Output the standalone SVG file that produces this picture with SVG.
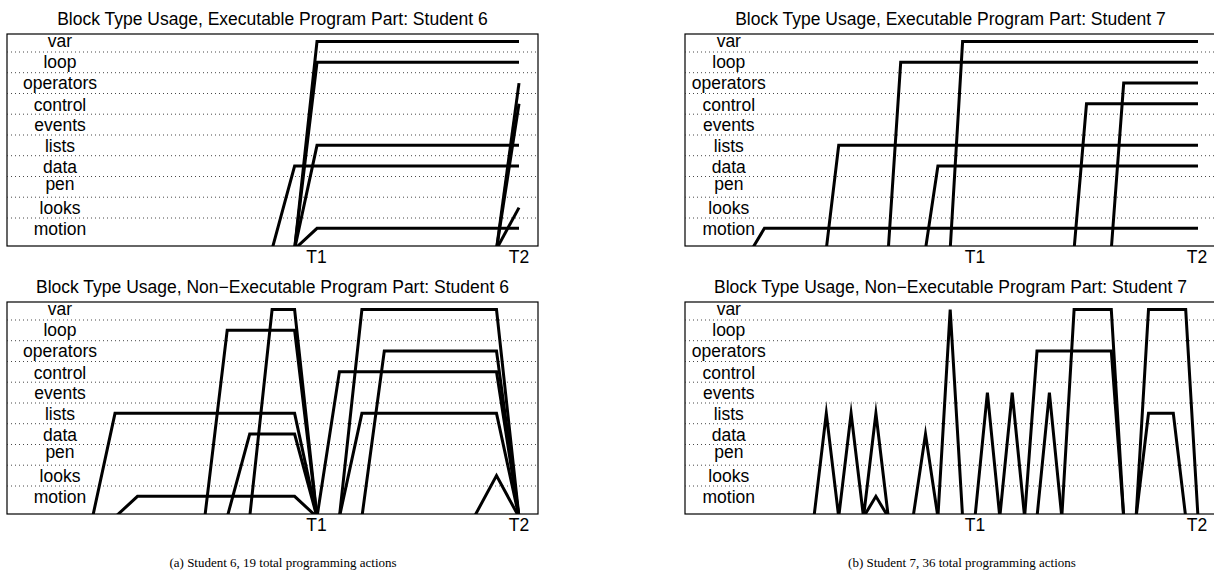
<svg xmlns="http://www.w3.org/2000/svg" width="1214" height="575" viewBox="0 0 1214 575">
<style>
.t{font-family:"Liberation Sans",Arial,sans-serif;font-size:17.5px;fill:#000;text-anchor:middle}
.lb{font-family:"Liberation Sans",Arial,sans-serif;font-size:17.5px;fill:#000;text-anchor:middle}
.cap{font-family:"Liberation Serif","Times New Roman",serif;font-size:13px;fill:#000;text-anchor:middle}
.box{fill:#fff;stroke:#000;stroke-width:1.2}
.grid{stroke:#333;stroke-width:0.9;stroke-dasharray:1 3;fill:none}
.d{fill:none;stroke:#000;stroke-width:3;stroke-linejoin:miter;stroke-miterlimit:10}
</style>
<defs>
<clipPath id="cA1"><rect x="7" y="34" width="531" height="212"/></clipPath>
<clipPath id="cA2"><rect x="7" y="302" width="531" height="212"/></clipPath>
<clipPath id="cB1"><rect x="685" y="34" width="531" height="212"/></clipPath>
<clipPath id="cB2"><rect x="685" y="302" width="531" height="212"/></clipPath>
</defs>
<rect width="1214" height="575" fill="#fff"/>

<!-- Panel A top -->
<g id="panelA1">
<text class="t" x="272.5" y="25">Block Type Usage, Executable Program Part: Student 6</text>
<rect class="box" x="7" y="34" width="531" height="212"/>
<g class="grid">
<line x1="7" y1="52" x2="538" y2="52"/><line x1="7" y1="72.7" x2="538" y2="72.7"/><line x1="7" y1="93.5" x2="538" y2="93.5"/>
<line x1="7" y1="114.2" x2="538" y2="114.2"/><line x1="7" y1="135" x2="538" y2="135"/><line x1="7" y1="155.7" x2="538" y2="155.7"/>
<line x1="7" y1="176.5" x2="538" y2="176.5"/><line x1="7" y1="197.2" x2="538" y2="197.2"/><line x1="7" y1="218" x2="538" y2="218"/>
</g>
<g class="lb">
<text x="60" y="47">var</text><text x="60" y="68">loop</text><text x="60" y="88.5">operators</text><text x="60" y="110.5">control</text><text x="60" y="131">events</text>
<text x="60" y="151.7">lists</text><text x="60" y="172.5">data</text><text x="60" y="189.5">pen</text><text x="60" y="213.7">looks</text><text x="60" y="234.5">motion</text>
</g>
<text class="t" x="316.5" y="263">T1</text><text class="t" x="519" y="263">T2</text>
</g>

<!-- Panel A bottom -->
<g id="panelA2">
<text class="t" x="272.5" y="293">Block Type Usage, Non−Executable Program Part: Student 6</text>
<rect class="box" x="7" y="302" width="531" height="212"/>
<g class="grid">
<line x1="7" y1="320" x2="538" y2="320"/><line x1="7" y1="340.7" x2="538" y2="340.7"/><line x1="7" y1="361.5" x2="538" y2="361.5"/>
<line x1="7" y1="382.2" x2="538" y2="382.2"/><line x1="7" y1="403" x2="538" y2="403"/><line x1="7" y1="423.7" x2="538" y2="423.7"/>
<line x1="7" y1="444.5" x2="538" y2="444.5"/><line x1="7" y1="465.2" x2="538" y2="465.2"/><line x1="7" y1="486" x2="538" y2="486"/>
</g>
<g class="lb">
<text x="60" y="315">var</text><text x="60" y="336">loop</text><text x="60" y="356.5">operators</text><text x="60" y="378.5">control</text><text x="60" y="399">events</text>
<text x="60" y="419.7">lists</text><text x="60" y="440.5">data</text><text x="60" y="457.5">pen</text><text x="60" y="481.7">looks</text><text x="60" y="502.5">motion</text>
</g>
<text class="t" x="316.5" y="531">T1</text><text class="t" x="519" y="531">T2</text>
</g>

<!-- Panel B top -->
<g id="panelB1">
<text class="t" x="950.5" y="25">Block Type Usage, Executable Program Part: Student 7</text>
<rect class="box" x="685" y="34" width="531" height="212"/>
<g class="grid">
<line x1="685" y1="52" x2="1216" y2="52"/><line x1="685" y1="72.7" x2="1216" y2="72.7"/><line x1="685" y1="93.5" x2="1216" y2="93.5"/>
<line x1="685" y1="114.2" x2="1216" y2="114.2"/><line x1="685" y1="135" x2="1216" y2="135"/><line x1="685" y1="155.7" x2="1216" y2="155.7"/>
<line x1="685" y1="176.5" x2="1216" y2="176.5"/><line x1="685" y1="197.2" x2="1216" y2="197.2"/><line x1="685" y1="218" x2="1216" y2="218"/>
</g>
<g class="lb">
<text x="728.8" y="47">var</text><text x="728.8" y="68">loop</text><text x="728.8" y="88.5">operators</text><text x="728.8" y="110.5">control</text><text x="728.8" y="131">events</text>
<text x="728.8" y="151.7">lists</text><text x="728.8" y="172.5">data</text><text x="728.8" y="189.5">pen</text><text x="728.8" y="213.7">looks</text><text x="728.8" y="234.5">motion</text>
</g>
<text class="t" x="975" y="263">T1</text><text class="t" x="1197" y="263">T2</text>
</g>

<!-- Panel B bottom -->
<g id="panelB2">
<text class="t" x="950.5" y="293">Block Type Usage, Non−Executable Program Part: Student 7</text>
<rect class="box" x="685" y="302" width="531" height="212"/>
<g class="grid">
<line x1="685" y1="320" x2="1216" y2="320"/><line x1="685" y1="340.7" x2="1216" y2="340.7"/><line x1="685" y1="361.5" x2="1216" y2="361.5"/>
<line x1="685" y1="382.2" x2="1216" y2="382.2"/><line x1="685" y1="403" x2="1216" y2="403"/><line x1="685" y1="423.7" x2="1216" y2="423.7"/>
<line x1="685" y1="444.5" x2="1216" y2="444.5"/><line x1="685" y1="465.2" x2="1216" y2="465.2"/><line x1="685" y1="486" x2="1216" y2="486"/>
</g>
<g class="lb">
<text x="728.8" y="315">var</text><text x="728.8" y="336">loop</text><text x="728.8" y="356.5">operators</text><text x="728.8" y="378.5">control</text><text x="728.8" y="399">events</text>
<text x="728.8" y="419.7">lists</text><text x="728.8" y="440.5">data</text><text x="728.8" y="457.5">pen</text><text x="728.8" y="481.7">looks</text><text x="728.8" y="502.5">motion</text>
</g>
<text class="t" x="975" y="531">T1</text><text class="t" x="1197" y="531">T2</text>
</g>

<!-- data lines (connectors) -->
<g id="connectors">
<g clip-path="url(#cA1)">
<polyline class="d" points="272.1,249.1 294.6,166.1 519,166.1"/>
<polyline class="d" points="294.6,249.1 317,41.6 519,41.6"/>
<polyline class="d" points="294.6,249.1 317,62.35 519,62.35"/>
<polyline class="d" points="294.6,249.1 317,145.35 519,145.35"/>
<polyline class="d" points="294.6,249.1 317,228.35 519,228.35"/>
<polyline class="d" points="496.5,249.1 519,83.1"/>
<polyline class="d" points="496.5,249.1 519,103.85"/>
<polyline class="d" points="496.5,249.1 519,207.6"/>
</g>
<g clip-path="url(#cA2)">
<polyline class="d" points="92.6,517.1 115,413.35 294.6,413.35 317,517.1"/>
<polyline class="d" points="339.4,517.1 361.9,413.35 496.5,413.35 519,517.1"/>
<polyline class="d" points="115,517.1 137.5,496.35 294.6,496.35 317,517.1"/>
<polyline class="d" points="204.8,517.1 227.2,330.35 294.6,330.35 317,517.1"/>
<polyline class="d" points="227.2,517.1 249.7,434.1 294.6,434.1 317,517.1"/>
<polyline class="d" points="249.7,517.1 272.1,309.6 294.6,309.6 317,517.1"/>
<polyline class="d" points="339.4,517.1 361.9,309.6 496.5,309.6 519,517.1"/>
<polyline class="d" points="317,517.1 339.4,371.85 496.5,371.85 519,517.1"/>
<polyline class="d" points="361.9,517.1 384.3,351.1 496.5,351.1 519,517.1"/>
<polyline class="d" points="474.1,517.1 496.5,475.6 519,517.1"/>
</g>
<g clip-path="url(#cB1)">
<polyline class="d" points="752,249.1 764.4,228.35 1198,228.35"/>
<polyline class="d" points="826.3,249.1 838.7,145.35 1198,145.35"/>
<polyline class="d" points="888.3,249.1 900.7,62.35 1198,62.35"/>
<polyline class="d" points="925.5,249.1 937.9,166.1 1198,166.1"/>
<polyline class="d" points="950.2,249.1 962.6,41.6 1198,41.6"/>
<polyline class="d" points="1074.1,249.1 1086.5,103.85 1198,103.85"/>
<polyline class="d" points="1111.3,249.1 1123.7,83.1 1198,83.1"/>
</g>
<g clip-path="url(#cB2)">
<polyline class="d" points="813.95,517.1 826.3,413.35 838.7,517.1 851.1,413.35 863.5,517.1 875.9,413.35 888.3,517.1"/>
<polyline class="d" points="863.5,517.1 875.9,496.35 888.3,517.1"/>
<polyline class="d" points="913.1,517.1 925.5,434.1 937.9,517.1"/>
<polyline class="d" points="937.9,517.1 950.2,309.6 962.6,517.1"/>
<polyline class="d" points="975,517.1 987.4,392.6 999.8,517.1 1012.2,392.6 1024.6,517.1"/>
<polyline class="d" points="1037,517.1 1049.4,392.6 1061.8,517.1"/>
<polyline class="d" points="1024.6,517.1 1037,351.1 1111.3,351.1 1123.7,517.1"/>
<polyline class="d" points="1061.8,517.1 1074.1,309.6 1111.3,309.6 1123.7,517.1"/>
<polyline class="d" points="1136.1,517.1 1148.5,309.6 1185.7,309.6 1198,517.1"/>
<polyline class="d" points="1136.1,517.1 1148.5,413.35 1173.3,413.35 1185.7,517.1"/>
</g>
</g>

<text class="cap" x="283" y="567">(a) Student 6, 19 total programming actions</text>
<text class="cap" x="962" y="567">(b) Student 7, 36 total programming actions</text>
</svg>
